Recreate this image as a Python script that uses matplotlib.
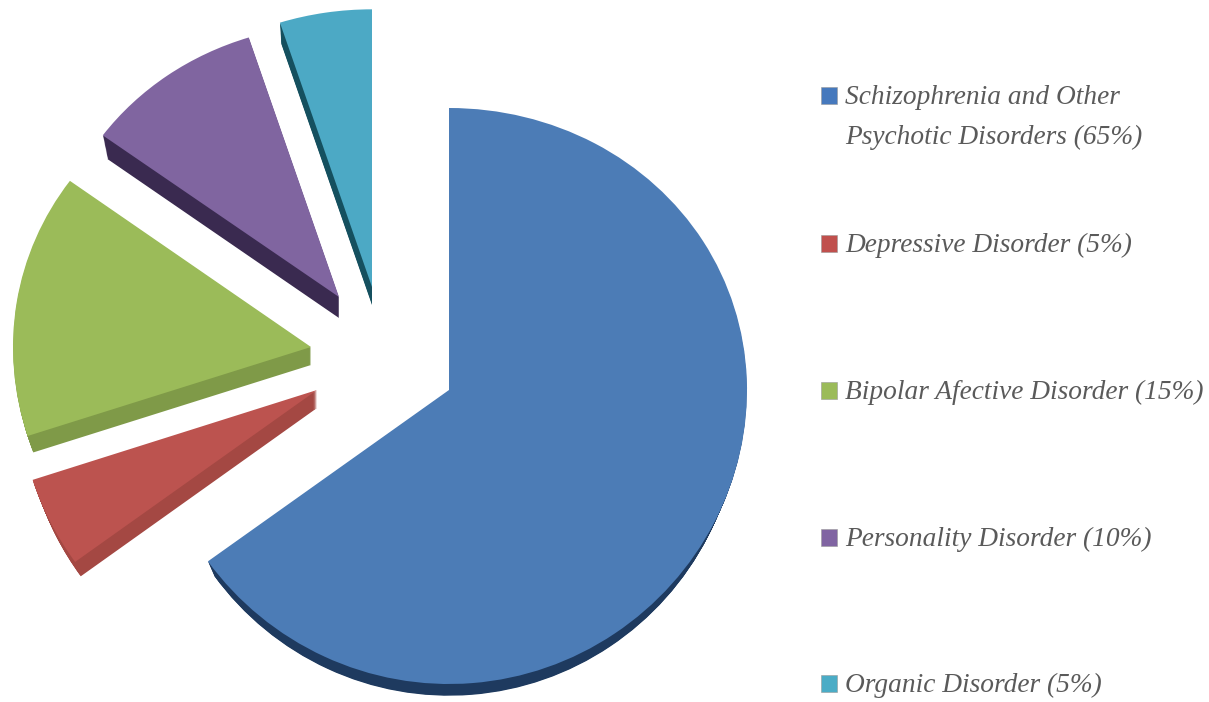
import numpy as np
import matplotlib
matplotlib.use('Agg')
import matplotlib.pyplot as plt
from matplotlib.patches import Rectangle, Wedge

# shares in pie order, clockwise from 12 o'clock
shares = [65, 5, 15, 10, 5]
slice_colors = ['#4C7CB6', '#BC534F', '#9BBB59', '#8065A0', '#4CA9C5']
side_colors = ['#1E3A5F', '#A44843', '#7F9A48', '#3A2A50', '#15505F']

legend_labels = [
    'Schizophrenia and Other\nPsychotic Disorders (65%)',
    'Depressive Disorder (5%)',
    'Bipolar Afective Disorder (15%)',
    'Personality Disorder (10%)',
    'Organic Disorder (5%)',
]
legend_colors = ['#4679BD', '#C0504D', '#9BBB59', '#8064A2', '#4BACC6']

# layout in image pixels: the tip of every exploded slice, its radius and depth
apex_x = [449, 317, 311, 339, 372]
apex_y = [390, 390, 347, 297, 287]
radii = [298, 299, 298, 292, 298]
depths = [19, 18, 18, 21, 18]
side_shrink = [8, 7, 6, 6, 4]  # bottom of the slice is narrower than the top
legend_y = [95.5, 243.5, 390, 537, 683]

W, H = 1209, 702
Y0 = 390  # image row of the main slice tip
A, B = 288 / 298, -6 / 298 ** 2  # slight perspective of the tilted disc


def tilt(v):
    v = np.asarray(v, dtype=float)
    return A * v + B * v * v


def untilt(f):
    f = np.asarray(f, dtype=float)
    return (A - np.sqrt(np.maximum(A * A + 4 * B * f, 1e-9))) / (-2 * B)


def row_to_v(row):
    return float(untilt(Y0 - row))


fig = plt.figure(figsize=(W / 100, H / 100), dpi=100, facecolor='white')
ax = fig.add_axes([0, 0, 1, 1])

wedges, _ = ax.pie(shares, colors=slice_colors, startangle=90, counterclock=False,
                   radius=298, wedgeprops={'linewidth': 0})

ax.set_aspect('auto')
ax.set_yscale('function', functions=(tilt, untilt))
ax.set_xlim(0, W)
ax.set_ylim(row_to_v(H), row_to_v(0))
ax.axis('off')

for i, w in enumerate(wedges):
    w.set_radius(radii[i])
    w.set_center((apex_x[i], row_to_v(apex_y[i])))
    w.set_zorder(3)
    # side of the slice: the same wedge stacked downwards in the darker colour
    for d in range(1, depths[i] + 1):
        r = radii[i] - side_shrink[i] * d / depths[i]
        ax.add_patch(Wedge((apex_x[i], row_to_v(apex_y[i] + d)), r,
                           w.theta1, w.theta2, facecolor=side_colors[i],
                           linewidth=0, zorder=2))

# legend, on a plain pixel overlay
lax = fig.add_axes([0, 0, 1, 1])
lax.set_xlim(0, W)
lax.set_ylim(H, 0)
lax.axis('off')
lax.patch.set_alpha(0)

for label, color, y in zip(legend_labels, legend_colors, legend_y):
    lax.add_patch(Rectangle((821, y - 8.5), 16, 17, facecolor=color,
                            edgecolor='#9a9a9a', linewidth=0.4))
    for n, line in enumerate(label.split('\n')):
        lax.text(845, y + 9 + n * 40, line, family='Liberation Serif', style='italic',
                 fontsize=19.7, color='#5A5A5A', va='baseline', ha='left')

fig.savefig('out.png', dpi=100, facecolor='white')
